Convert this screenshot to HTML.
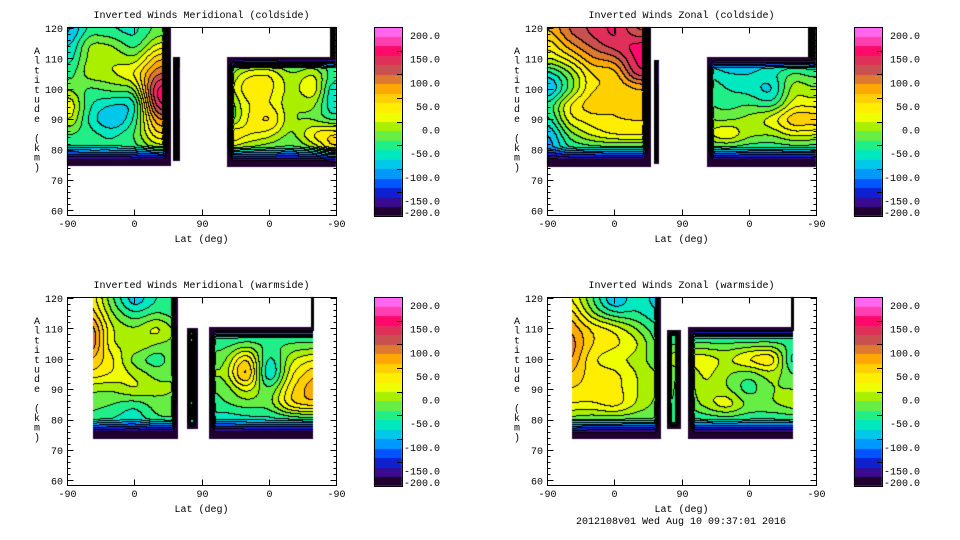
<!DOCTYPE html>
<html><head><meta charset="utf-8"><style>
html,body{margin:0;padding:0;background:#fff;}
#wrap{position:relative;width:960px;height:540px;overflow:hidden;}
canvas,svg{position:absolute;left:0;top:0;}
text{font-family:"Liberation Mono",monospace;font-size:10px;fill:#000;}
</style></head><body>
<div id="wrap">
<canvas id="cv" width="960" height="540"></canvas>
<svg id="sv" width="960" height="540" xmlns="http://www.w3.org/2000/svg"></svg>
</div>
<script>
const altitudes=[120,115,110,105,100,95,90,85,80,75];
const latPositions=[0,30,60,90,120,150,180,210,240,270,300,330,360];
const latTickLabels=['-90','0','90','0','-90'];
const altTickLabels=[60,70,80,90,100,110,120];
const colorbarValues=[200,150,100,50,0,-50,-100,-150,-200];
const colorbarLabels=['200.0','150.0','100.0','50.0','0.0','-50.0','-100.0','-150.0','-200.0'];
const meridColdValues=[
[-120,-60,-70,-70,-40,-40,-40,-60,-60,-60,-60,-60,-60],
[-100,-10,-20,-60,0,0,-40,-60,-60,-60,-60,-60,-60],
[-80,-10,0,-20,60,60,-60,-60,-60,-60,-60,-60,-60],
[-60,0,0,30,100,100,-40,-40,20,30,-20,10,-60],
[-20,-50,-30,-30,160,160,-20,-20,40,30,-10,30,-110],
[40,-60,-80,-90,150,150,-60,-60,20,20,-20,-10,-100],
[20,-70,-120,-60,80,80,-70,-70,20,60,-20,-30,-60],
[-40,-50,-60,-40,40,40,70,70,30,10,-30,40,60],
[-70,-60,-60,-50,-20,-20,-10,-10,-30,-40,-50,-30,60],
[-80,-80,-80,-80,-80,-80,-80,-80,-80,-80,-80,-80,-80]];
const zonalColdValues=[
[60,110,130,150,80,80,-60,-60,-60,-60,-60,-60,-60],
[20,80,110,140,150,150,-80,-80,-80,-80,-80,-80,-80],
[0,30,80,90,150,150,-100,-100,-100,-100,-100,-100,-100],
[-80,-30,40,40,140,140,-60,-60,-80,-80,-60,-30,-50],
[-130,-40,40,40,50,50,-30,-30,-60,-70,-100,0,-20],
[-60,30,60,40,60,60,-40,-40,-50,-40,-60,10,10],
[-80,20,30,40,40,40,-20,-20,-30,-10,20,70,60],
[-120,-30,10,30,30,30,0,0,40,-10,-20,10,0],
[-120,-60,-60,-60,-60,-60,-60,-60,-60,-60,-60,-60,-60],
[-100,-100,-100,-100,-100,-100,-100,-100,-100,-100,-100,-100,-100]];
const meridWarmValues=[
[40,40,-40,-110,-60,-60,-70,-70,-70,-70,-70,-70,-70],
[60,60,-20,-60,-40,-60,-70,-70,-70,-70,-70,-70,-70],
[110,110,0,-20,20,-30,-70,-70,-70,-70,-70,-70,-70],
[120,120,-10,10,-20,-30,-40,-50,-40,-40,-40,-40,-40],
[60,60,30,-40,-60,-20,-40,-30,60,-80,0,20,20],
[40,40,20,0,-30,-20,0,-20,100,-110,20,60,60],
[-20,-20,-20,10,-10,-20,-40,-40,10,-40,40,80,80],
[-30,-30,-40,-60,-30,-30,-50,-40,-30,-30,50,60,60],
[-50,-50,-60,-80,-40,-40,-70,-80,-70,-70,-70,-60,-60],
[-90,-90,-90,-90,-90,-90,-90,-90,-90,-90,-90,-90,-90]];
const zonalWarmValues=[
[20,20,-40,-120,-60,-100,-80,-80,-80,-80,-80,-80,-80],
[60,60,-20,-60,-60,-80,-80,-80,-80,-80,-80,-80,-80],
[80,80,40,20,-20,-60,-80,-80,-80,-80,-80,-80,-80],
[100,100,40,30,10,-50,-40,-40,-40,-40,-40,-40,-40],
[90,90,20,0,-10,-40,20,20,0,40,60,-90,-90],
[60,60,30,30,0,-20,-50,10,-20,-40,-10,-40,-40],
[40,40,30,30,0,-20,-50,0,-20,-60,-20,-20,-20],
[20,20,20,40,0,-30,-50,-10,30,-20,-20,0,0],
[-30,-30,-40,-40,-40,-40,-60,-60,-60,-60,-60,-60,-60],
[-80,-80,-80,-80,-80,-80,-80,-80,-80,-80,-80,-80,-80]];

const bandColors=['#200030','#3a0a90','#1020d0','#0055ff','#0099ff','#00c8e8','#00e8c0','#22ee88','#66ee44','#aaee00','#eeff00','#ffee00','#ffd000','#ffa800','#dd7a30','#c85050','#e0305a','#ff0a6a','#ff3fb0','#ff66ee'];
const PW=269,PH=188;
const panels=[
 {name:'meridional-coldside',title:'Inverted Winds Meridional (coldside)',left:67,top:27,values:meridColdValues,
  regions:[{x0:0,x1:103,y0:0,y1:138,f:[0,8,20,0]},{x0:106,x1:112,y0:30,y1:133,f:[3,3,3,3]},{x0:160,x1:269,y0:30,y1:139,f:[12,0,20,7]},{x0:263,x1:269,y0:0,y1:68,black:1}]},
 {name:'zonal-coldside',title:'Inverted Winds Zonal (coldside)',left:547,top:27,values:zonalColdValues,
  regions:[{x0:0,x1:103,y0:0,y1:139,f:[0,8,20,0]},{x0:107,x1:111,y0:33,y1:136,f:[3,3,3,3]},{x0:160,x1:268,y0:30,y1:139,f:[12,0,20,7]},{x0:261,x1:268,y0:0,y1:68,black:1}]},
 {name:'meridional-warmside',title:'Inverted Winds Meridional (warmside)',left:67,top:297,values:meridWarmValues,
  regions:[{x0:26,x1:110,y0:0,y1:141,f:[0,6,20,0]},{x0:120,x1:130,y0:31,y1:131,f:[6,5,6,5]},{x0:142,x1:245,y0:30,y1:141,f:[12,0,20,7]},{x0:244,x1:246,y0:0,y1:33,black:1}]},
 {name:'zonal-warmside',title:'Inverted Winds Zonal (warmside)',left:547,top:297,values:zonalWarmValues,
  regions:[{x0:25,x1:113,y0:0,y1:141,f:[0,6,20,0]},{x0:120,x1:133,y0:33,y1:131,f:[6,5,6,5]},{x0:141,x1:245,y0:30,y1:141,f:[12,0,20,7]},{x0:244,x1:246,y0:0,y1:33,black:1}]}
];
function posToX(p){return p*PW/360;}
function altToY(a){return 1+(120-a)*3.04;}
function interp(vals,pos,alt){
  let fj=Math.max(0,Math.min(latPositions.length-1.0001,pos/30));
  let fi=Math.max(0,Math.min(altitudes.length-1.0001,(120-alt)/5));
  const i=Math.floor(fi),j=Math.floor(fj),ti=fi-i,tj=fj-j;
  const a=vals[i][j],b=vals[i][j+1],c=vals[i+1][j],d=vals[i+1][j+1];
  return (a*(1-tj)+b*tj)*(1-ti)+(c*(1-tj)+d*tj)*ti;
}
function boxBlur(F,r){
  const T=new Float32Array(F.length);
  for(let y=0;y<PH;y++)for(let x=0;x<PW;x++){let s=0,n=0;for(let k=-r;k<=r;k++){const xx=x+k;if(xx<0||xx>=PW)continue;s+=F[y*PW+xx];n++;}T[y*PW+x]=s/n;}
  for(let y=0;y<PH;y++)for(let x=0;x<PW;x++){let s=0,n=0;for(let k=-r;k<=r;k++){const yy=y+k;if(yy<0||yy>=PH)continue;s+=T[yy*PW+x];n++;}F[y*PW+x]=s/n;}
}
function hex(c){return [parseInt(c.substr(1,2),16),parseInt(c.substr(3,2),16),parseInt(c.substr(5,2),16)];}
const rgb=bandColors.map(hex);
const cv=document.getElementById('cv');const ctx=cv.getContext('2d');
const img=ctx.createImageData(960,540);
for(let k=0;k<img.data.length;k+=4){img.data[k]=255;img.data[k+1]=255;img.data[k+2]=255;img.data[k+3]=255;}
panels.forEach(P=>{
  const F=new Float32Array(PW*PH);
  for(let py=0;py<PH;py++)for(let px=0;px<PW;px++)F[py*PW+px]=interp(P.values,px*360/PW,120-(py-1)/3.04);
  boxBlur(F,6);boxBlur(F,5);
  const band=new Int16Array(PW*PH).fill(-1);
  for(let py=0;py<PH;py++)for(let px=0;px<PW;px++){
    let best=null;
    for(const r of P.regions){
      if(px<r.x0||px>r.x1||py<r.y0||py>r.y1)continue;
      if(r.black){best=-999;break;}
      let v=F[py*PW+px];
      const d=[py-r.y0+0.5,r.x1-px+0.5,r.y1-py+0.5,px-r.x0+0.5];
      for(let e=0;e<4;e++){const w=r.f[e];if(w>0&&d[e]<w){v=Math.min(v,-230+(v+230)*(d[e]/w));}}
      best=v;break;
    }
    if(best===null)continue;
    if(best===-999){band[py*PW+px]=-2;continue;}
    band[py*PW+px]=Math.max(0,Math.min(19,Math.floor((best+200)/20)));
  }
  for(let py=0;py<PH;py++)for(let px=0;px<PW;px++){
    const b=band[py*PW+px];if(b===-1)continue;
    let col;
    if(b===-2)col=[0,0,0];
    else{
      col=rgb[b];
      const br=px+1<PW?band[py*PW+px+1]:b, bd=py+1<PH?band[(py+1)*PW+px]:b;
      if((br>=0&&br!==b)||(bd>=0&&bd!==b))col=[0,0,0];
    }
    const k=((P.top+py)*960+(P.left+px))*4;
    img.data[k]=col[0];img.data[k+1]=col[1];img.data[k+2]=col[2];
  }
});
panels.forEach(P=>{
  const cx=P.left+307,cy=P.top,cw=28,ch=189;
  for(let y=0;y<ch;y++){const b=19-Math.min(19,Math.floor(y/(ch/20)));const c=rgb[b];
    for(let x=0;x<cw;x++){const k=((cy+y)*960+cx+x)*4;img.data[k]=c[0];img.data[k+1]=c[1];img.data[k+2]=c[2];}}
});
ctx.putImageData(img,0,0);

const NS='http://www.w3.org/2000/svg';const sv=document.getElementById('sv');
function el(tag,attrs,parent){const e=document.createElementNS(NS,tag);for(const k in attrs)e.setAttribute(k,attrs[k]);(parent||sv).appendChild(e);return e;}
function line(x1,y1,x2,y2,g){return el('line',{x1:x1,y1:y1,x2:x2,y2:y2,stroke:'#000','stroke-width':1},g);}
panels.forEach(P=>{
  const g=el('g',{});
  
  
  const L=P.left+0.5,T=P.top+0.5;
  const fr=el('rect',{x:L,y:T,width:PW,height:PH,fill:'none',stroke:'#000','stroke-width':1},g);
  
  
  const t=el('text',{x:P.left+PW/2,y:P.top-9,'text-anchor':'middle'},g);t.textContent=P.title;
  
  
  for(let a=60;a<=120;a+=2){
    const y=Math.round(P.top+altToY(a))+0.5;const len=(a%10===0)?6:3;
    line(L,y,L+len,y,g);line(L+PW,y,L+PW-len,y,g);
  }
  altTickLabels.forEach(a=>{
    const tx=el('text',{x:P.left-4,y:P.top+altToY(a)+4,'text-anchor':'end'},g);tx.textContent=a;
    
    
  });
  latTickLabels.forEach((lab,i)=>{
    const x=Math.round(P.left+posToX(i*90))+0.5;
    line(x,T,x,T+6,g);line(x,T+PH,x,T+PH-6,g);
    const tx=el('text',{x:x,y:P.top+PH+12,'text-anchor':'middle'},g);tx.textContent=lab;
    
    
  });
  const xl=el('text',{x:P.left+PW/2,y:P.top+PH+27,'text-anchor':'middle'},g);xl.textContent='Lat (deg)';
  
  
  const yt=el('g',{},g);
  
  
  'Altitude (km)'.split('').forEach((ch,i)=>{if(ch===' ')return;
    const tx=el('text',{x:P.left-30,y:P.top+27+i*9.7,'text-anchor':'middle'},yt);tx.textContent=ch;});
  const cb=el('g',{},g);
  
  
  const cx=P.left+307,ch=189;
  el('rect',{x:cx+0.5,y:T,width:28,height:ch,fill:'none',stroke:'#000'},cb);
  colorbarValues.forEach((v,i)=>{
    const y=P.top+(200-v)/400*ch;
    if(v!==200&&v!==-200)line(cx+23,Math.round(y)+0.5,cx+28,Math.round(y)+0.5,cb);
    let ly=y+8;if(v===-200)ly=P.top+ch-4;
    const tx=el('text',{x:cx+66,y:ly+4,'text-anchor':'end'},cb);tx.textContent=colorbarLabels[i];
    
    
  });
});
const ft=el('text',{x:681,y:524,'text-anchor':'middle'});ft.textContent='2012108v01 Wed Aug 10 09:37:01 2016';


</script>
</body></html>
